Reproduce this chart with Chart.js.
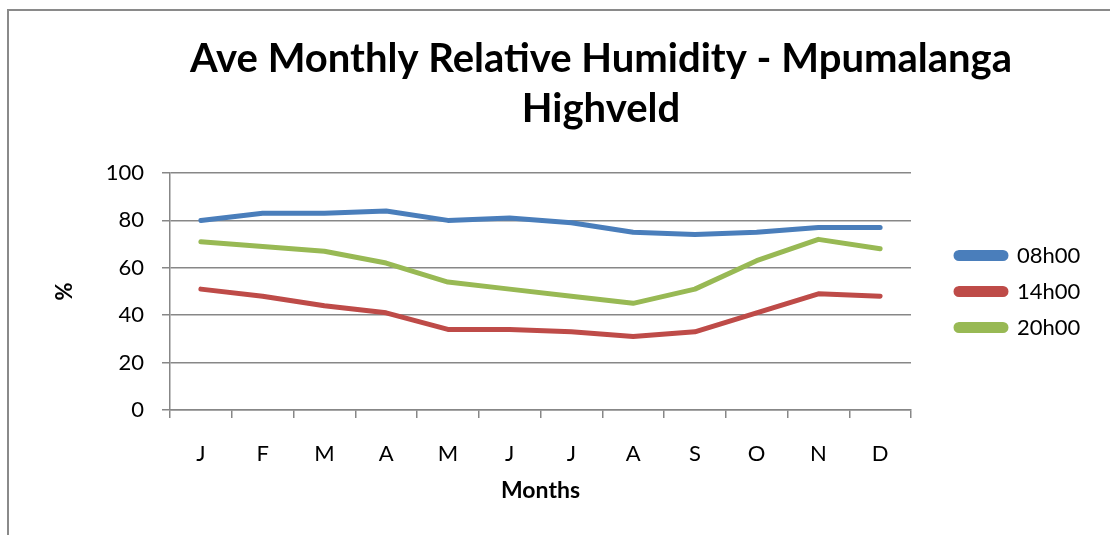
<!DOCTYPE html>
<html>
<head>
<meta charset="utf-8">
<title>Ave Monthly Relative Humidity - Mpumalanga Highveld</title>
<script src="https://cdn.jsdelivr.net/npm/chart.js@4/dist/chart.umd.min.js"></script>
<style>
  html, body { margin: 0; padding: 0; background: #ffffff; overflow: hidden; }
  #wrap { width: 1110px; height: 535px; overflow: hidden; position: relative; }
  canvas { display: block; }
</style>
</head>
<body>
<div id="wrap"><canvas id="chart" width="1202" height="535"></canvas></div>
<script>
// Monthly average relative humidity (%) at three reading times
const months = ['J', 'F', 'M', 'A', 'M', 'J', 'J', 'A', 'S', 'O', 'N', 'D'];
const seriesNames = ['08h00', '14h00', '20h00'];
const rh08 = [80, 83, 83, 84, 80, 81, 79, 75, 74, 75, 77, 77];
const rh14 = [51, 48, 44, 41, 34, 34, 33, 31, 33, 41, 49, 48];
const rh20 = [71, 69, 67, 62, 54, 51, 48, 45, 51, 63, 72, 68];
const yTicks = [0, 20, 40, 60, 80, 100];

const colors = ['#4A7EBB', '#BE4B48', '#98B954'];
const gridGrey = '#878787';
const FONT = 'Lato, "Open Sans", "DejaVu Sans", sans-serif';

// Legend column: total width and the gap before the first swatch
const LEGEND_WIDTH = 291;
const LEGEND_INDENT = 31;

Chart.defaults.color = '#000000';
Chart.defaults.font.family = FONT;

// Outer chart frame (left and top edges in view)
const framePlugin = {
  id: 'frame',
  beforeDraw(chart) {
    const ctx = chart.ctx;
    ctx.save();
    ctx.strokeStyle = '#8a8a8a';
    ctx.lineWidth = 2;
    ctx.beginPath();
    ctx.moveTo(8, chart.height + 10);
    ctx.lineTo(8, 10);
    ctx.lineTo(chart.width + 10, 10);
    ctx.stroke();
    ctx.restore();
  }
};

// Fixed-width legend column on the right, with its entries indented
const legendColumnPlugin = {
  id: 'legendColumn',
  beforeLayout(chart) {
    const lg = chart.legend;
    if (lg && !lg.$fixedWidth) {
      const fit = lg.fit;
      lg.fit = function () {
        fit.call(this);
        this.width = LEGEND_WIDTH;
      };
      lg.$fixedWidth = true;
    }
  },
  afterLayout(chart) {
    const lg = chart.legend;
    if (lg) { lg.left += LEGEND_INDENT; }
  }
};

function makeSet(label, data, color) {
  return {
    label,
    data,
    borderColor: color,
    backgroundColor: color,
    borderWidth: 5,
    pointRadius: 0,
    pointHoverRadius: 0,
    tension: 0,
    borderCapStyle: 'round',
    borderJoinStyle: 'round',
    fill: false
  };
}

new Chart(document.getElementById('chart'), {
  type: 'line',
  data: {
    labels: months,
    datasets: [
      makeSet(seriesNames[0], rh08, colors[0]),
      makeSet(seriesNames[1], rh14, colors[1]),
      makeSet(seriesNames[2], rh20, colors[2])
    ]
  },
  options: {
    responsive: false,
    animation: false,
    devicePixelRatio: 1,
    layout: { padding: 0 },
    plugins: {
      title: {
        display: true,
        text: ['Ave Monthly Relative Humidity - Mpumalanga', 'Highveld'],
        color: '#000000',
        font: { family: FONT, size: 40, weight: 'bold', lineHeight: '50px' },
        padding: { top: 34, bottom: 39 }
      },
      legend: {
        display: true,
        position: 'right',
        fullSize: false,
        labels: {
          boxWidth: 50,
          boxHeight: 6,
          useBorderRadius: true,
          borderRadius: 3,
          padding: 14,
          color: '#000000',
          font: { family: FONT, size: 22 }
        }
      },
      tooltip: { enabled: false }
    },
    scales: {
      x: {
        type: 'category',
        offset: true,
        afterFit(scale) { scale.height = 125; },
        grid: {
          offset: true,
          drawOnChartArea: false,
          drawTicks: true,
          tickLength: 8,
          color: gridGrey,
          lineWidth: 1.5
        },
        border: { display: true, color: gridGrey, width: 1.5 },
        ticks: {
          padding: 23,
          color: '#000000',
          font: { family: FONT, size: 22 },
          maxRotation: 0,
          autoSkip: false
        },
        title: {
          display: true,
          text: 'Months',
          color: '#000000',
          font: { family: FONT, size: 23, weight: 'bold' },
          padding: { top: 0, bottom: 31 }
        }
      },
      y: {
        min: 0,
        max: 100,
        afterFit(scale) { scale.width = 170; },
        afterBuildTicks(scale) { scale.ticks = yTicks.map(v => ({ value: v })); },
        grid: {
          drawOnChartArea: true,
          drawTicks: true,
          tickLength: 8,
          color: gridGrey,
          lineWidth: 1.5
        },
        border: { display: true, color: gridGrey, width: 1.5 },
        ticks: {
          padding: 18,
          color: '#000000',
          font: { family: FONT, size: 22 }
        },
        title: {
          display: true,
          text: '%',
          color: '#000000',
          font: { family: FONT, size: 22, weight: 'bold' },
          padding: { top: 52, bottom: 0 }
        }
      }
    }
  },
  plugins: [framePlugin, legendColumnPlugin]
});
</script>
</body>
</html>
